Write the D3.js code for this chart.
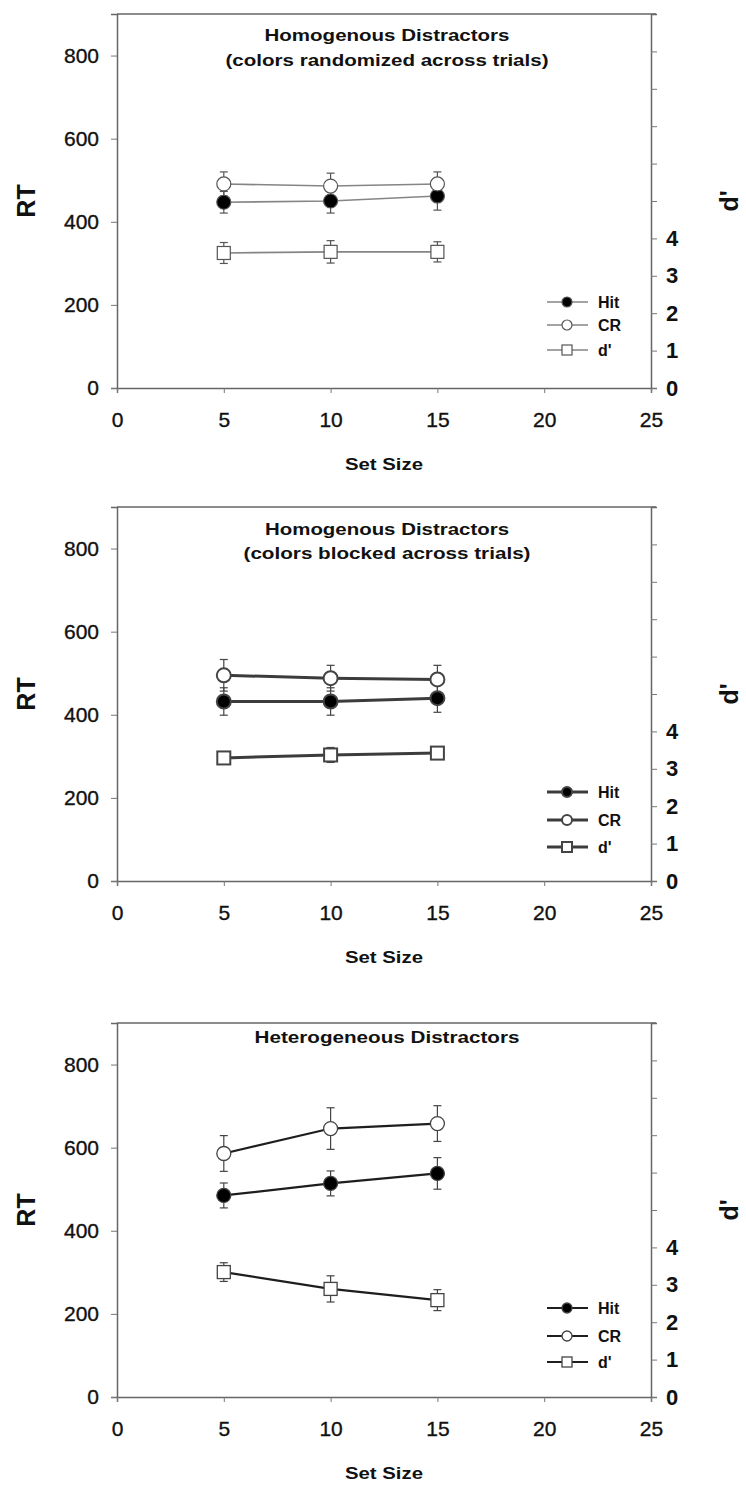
<!DOCTYPE html>
<html>
<head>
<meta charset="utf-8">
<script src="https://cdn.jsdelivr.net/npm/d3@7"></script>
<style>
  body { margin: 0; background: #fff; }
  text { font-family: "Liberation Sans", Arial, sans-serif; }
</style>
</head>
<body>
<div id="chart"></div>
<script>
// set sizes on the x axis
var setSize = [5, 10, 15];
var xTicks = [0, 5, 10, 15, 20, 25];
var rtTicks = [0, 200, 400, 600, 800];
var dTicks = [0, 1, 2, 3, 4, 5, 6, 7, 8, 9];

// panel titles
var titles = [
    ["Homogenous Distractors", "(colors randomized across trials)"],
    ["Homogenous Distractors", "(colors blocked across trials)"],
    ["Heterogeneous Distractors"]
];

// panel 1: colors randomized
var hitRT1 = [447, 450, 462], hitErr1 = [26, 29, 34];
var crRT1 = [491, 486, 491], crErr1 = [29, 31, 29];
var dp1 = [3.61, 3.64, 3.64], dpErr1 = [0.28, 0.3, 0.27];

// panel 2: colors blocked
var hitRT2 = [432, 432, 440], hitErr2 = [33, 33, 34];
var crRT2 = [495, 488, 485], crErr2 = [38, 31, 34];
var dp2 = [3.29, 3.37, 3.42], dpErr2 = [0.12, 0.2, 0.1];

// panel 3: heterogeneous
var hitRT3 = [485, 514, 538], hitErr3 = [30, 30, 38];
var crRT3 = [586, 646, 658], crErr3 = [43, 50, 43];
var dp3 = [3.34, 2.89, 2.59], dpErr3 = [0.25, 0.35, 0.28];

var legendNames = ["Hit", "CR", "d'"];

var panels = [
    { top: 14, hit: hitRT1, hitE: hitErr1, cr: crRT1, crE: crErr1, dp: dp1, dpE: dpErr1,
      line: "#858585", lw: 1.6, mk: "#555", mw: 1.2, legY: [-86, -63, -38], titleY: [21, 46],
      titleW: [245, 323] },
    { top: 507, hit: hitRT2, hitE: hitErr2, cr: crRT2, crE: crErr2, dp: dp2, dpE: dpErr2,
      line: "#3c3c3c", lw: 3, mk: "#444", mw: 2, legY: [-89, -61, -34], titleY: [22, 46],
      titleW: [244, 287] },
    { top: 1023, hit: hitRT3, hitE: hitErr3, cr: crRT3, crE: crErr3, dp: dp3, dpE: dpErr3,
      line: "#1e1e1e", lw: 2.2, mk: "#444", mw: 1.3, legY: [-89, -61, -35], titleY: [14],
      titleW: [265] }
];

var W = 746, H = 1486, plotH = 374;
var left = 117, right = 651;

var svg = d3.select("#chart").append("svg")
    .attr("width", W)
    .attr("height", H);

var x = d3.scaleLinear().domain([0, 25]).range([left, right]);

panels.forEach(function(p, i) {
    var bottom = p.top + plotH;
    var yRT = d3.scaleLinear().domain([0, 900]).range([bottom, p.top]);
    var yD = d3.scaleLinear().domain([0, 10]).range([bottom, p.top]);

    var g = svg.append("g");

    // frame top line
    g.append("line")
        .attr("x1", left).attr("x2", right + 5)
        .attr("y1", p.top).attr("y2", p.top)
        .attr("stroke", "#666").attr("stroke-width", 1.5);

    // left axis
    var ax = g.append("g").attr("transform", "translate(" + left + ",0)")
        .call(d3.axisLeft(yRT).tickValues(rtTicks).tickSize(6).tickPadding(12));
    ax.selectAll("text").attr("font-size", 21).attr("fill", "#111")
        .attr("stroke", "#111").attr("stroke-width", 0.35);

    // right axis
    var ar = g.append("g").attr("transform", "translate(" + right + ",0)")
        .call(d3.axisRight(yD).tickValues(dTicks).tickSize(6).tickPadding(9)
            .tickFormat(function(d) { return d <= 4 ? d : ""; }));
    ar.selectAll("text").attr("font-size", 22).attr("font-weight", "bold").attr("fill", "#111");

    // bottom axis
    var ab = g.append("g").attr("transform", "translate(0," + bottom + ")")
        .call(d3.axisBottom(x).tickValues(xTicks).tickSize(5).tickPadding(19));
    ab.selectAll("text").attr("font-size", 21).attr("fill", "#111")
        .attr("stroke", "#111").attr("stroke-width", 0.35);

    [ax, ar, ab].forEach(function(a) {
        a.select(".domain").attr("stroke", "#666").attr("stroke-width", 1.5);
        a.selectAll(".tick line").attr("stroke", "#777");
    });

    // axis titles
    g.append("text")
        .attr("transform", "translate(35," + (p.top + plotH / 2) + ") rotate(-90)")
        .attr("text-anchor", "middle")
        .attr("font-size", 25).attr("font-weight", "bold").attr("fill", "#111")
        .text("RT");
    g.append("text")
        .attr("transform", "translate(738," + (p.top + plotH / 2) + ") rotate(-90)")
        .attr("text-anchor", "middle")
        .attr("font-size", 25).attr("font-weight", "bold").attr("fill", "#111")
        .text("d'");
    g.append("text")
        .attr("x", 384).attr("y", bottom + 82)
        .attr("text-anchor", "middle")
        .attr("font-size", 17).attr("font-weight", "bold").attr("fill", "#111")
        .attr("textLength", 78).attr("lengthAdjust", "spacingAndGlyphs")
        .text("Set Size");

    // panel title
    titles[i].forEach(function(t, k) {
        g.append("text")
            .attr("x", 387).attr("y", p.top + p.titleY[k] + 6)
            .attr("text-anchor", "middle")
            .attr("font-size", 17).attr("font-weight", "bold").attr("fill", "#111")
            .attr("textLength", p.titleW[k]).attr("lengthAdjust", "spacingAndGlyphs")
            .text(t);
    });

    var series = [
        { v: p.hit, e: p.hitE, y: yRT, shape: "circle", fill: "#000" },
        { v: p.cr, e: p.crE, y: yRT, shape: "circle", fill: "#fff" },
        { v: p.dp, e: p.dpE, y: yD, shape: "square", fill: "#fff" }
    ];

    var lineGen = d3.line();

    series.forEach(function(s) {
        var pts = setSize.map(function(n, j) { return [x(n), s.y(s.v[j])]; });
        g.append("path")
            .attr("d", lineGen(pts))
            .attr("fill", "none")
            .attr("stroke", p.line).attr("stroke-width", p.lw);
    });

    series.forEach(function(s) {
        var eg = g.append("g").attr("stroke", p.mk).attr("stroke-width", 1.2);
        setSize.forEach(function(n, j) {
            var cx = x(n);
            var y1 = s.y(s.v[j] + s.e[j]), y2 = s.y(s.v[j] - s.e[j]);
            eg.append("line").attr("x1", cx).attr("x2", cx).attr("y1", y1).attr("y2", y2);
            eg.append("line").attr("x1", cx - 4).attr("x2", cx + 4).attr("y1", y1).attr("y2", y1);
            eg.append("line").attr("x1", cx - 4).attr("x2", cx + 4).attr("y1", y2).attr("y2", y2);
        });
    });

    series.forEach(function(s) {
        setSize.forEach(function(n, j) {
            var cx = x(n), cy = s.y(s.v[j]);
            if (s.shape === "circle") {
                g.append("circle").attr("cx", cx).attr("cy", cy).attr("r", 7)
                    .attr("fill", s.fill).attr("stroke", p.mk).attr("stroke-width", p.mw);
            } else {
                g.append("rect").attr("x", cx - 6.5).attr("y", cy - 6.5).attr("width", 13).attr("height", 13)
                    .attr("fill", s.fill).attr("stroke", p.mk).attr("stroke-width", p.mw);
            }
        });
    });

    // legend
    var lg = g.append("g");
    series.forEach(function(s, k) {
        var ly = bottom + p.legY[k];
        lg.append("line").attr("x1", 547).attr("x2", 588).attr("y1", ly).attr("y2", ly)
            .attr("stroke", p.line).attr("stroke-width", p.lw);
        if (s.shape === "circle") {
            lg.append("circle").attr("cx", 567).attr("cy", ly).attr("r", 5)
                .attr("fill", s.fill).attr("stroke", p.mk).attr("stroke-width", p.mw);
        } else {
            lg.append("rect").attr("x", 562).attr("y", ly - 5).attr("width", 10).attr("height", 10)
                .attr("fill", s.fill).attr("stroke", p.mk).attr("stroke-width", p.mw);
        }
        lg.append("text").attr("x", 598).attr("y", ly + 6)
            .attr("font-size", 16).attr("font-weight", "bold").attr("fill", "#111")
            .text(legendNames[k]);
    });
});
</script>
</body>
</html>
